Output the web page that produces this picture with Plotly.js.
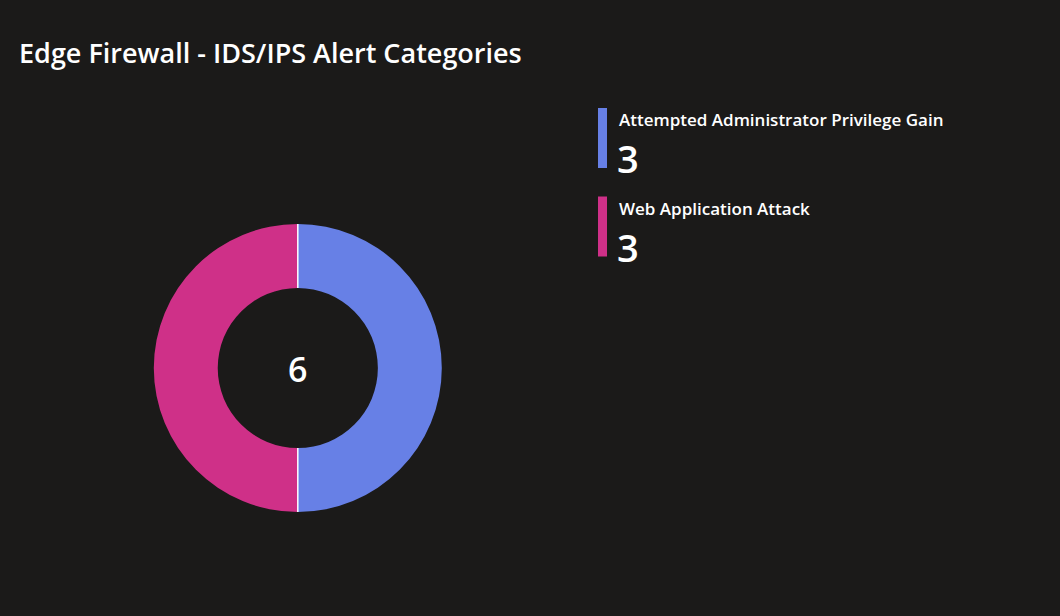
<!DOCTYPE html>
<html>
<head>
<meta charset="utf-8">
<script src="https://cdn.plot.ly/plotly-3.0.1.min.js"></script>
<style>html,body{margin:0;padding:0;background:#1b1a19;}#chart{width:1060px;height:616px;}</style>
</head>
<body>
<div id="chart"></div>
<script>
const categories = ["Attempted Administrator Privilege Gain", "Web Application Attack"];
const counts = [3, 3];
const colors = ["#6780e6", "#cf3088"];
const chartTitle = "Edge Firewall - IDS/IPS Alert Categories";

const W = 1060, H = 616;
const FONT = "'Open Sans', 'Noto Sans', sans-serif";
const total = counts.reduce((a, b) => a + b, 0);

const CX = 297.8, CY = 368, R = 144, HOLE = 0.556;

const trace = {
  type: "pie",
  labels: categories,
  values: counts,
  hole: HOLE,
  sort: false,
  direction: "clockwise",
  rotation: 0,
  textinfo: "none",
  hoverinfo: "label+value",
  marker: { colors: colors, line: { color: colors, width: 0 } },
  domain: { x: [(CX - R) / W, (CX + R) / W], y: [(H - CY - R) / H, (H - CY + R) / H] },
  showlegend: false
};

const shapes = [];
const annotations = [];
const px = x => x / W, py = y => 1 - y / H;

// white slice dividers, at the boundaries between slices
let cum = 0;
counts.forEach(v => {
  const th = cum / total * 2 * Math.PI;
  cum += v;
  const r0 = R * HOLE, r1 = R;
  shapes.push({
    type: "line", xref: "paper", yref: "paper",
    x0: px(CX + r0 * Math.sin(th)), y0: py(CY - r0 * Math.cos(th)),
    x1: px(CX + r1 * Math.sin(th)), y1: py(CY - r1 * Math.cos(th)),
    line: { color: "#ffffff", width: 1.5 }
  });
});

annotations.push({
  text: String(total), x: px(CX), y: py(369), xref: "paper", yref: "paper",
  showarrow: false, xanchor: "center", yanchor: "middle",
  font: { family: FONT, size: 34, color: "#ffffff", weight: 600 }
});

categories.forEach((c, i) => {
  const top = 108 + i * 88.5;
  shapes.push({
    type: "rect", xref: "paper", yref: "paper",
    x0: px(598), x1: px(607), y0: py(top), y1: py(top + 60),
    fillcolor: colors[i], line: { width: 0 }
  });
  annotations.push({
    text: c, x: px(617), y: py(top + 12), xref: "paper", yref: "paper",
    showarrow: false, xanchor: "left", yanchor: "middle",
    font: { family: FONT, size: 17, color: "#ffffff", weight: 600 }
  });
  annotations.push({
    text: String(counts[i]), x: px(615), y: py(top + 50), xref: "paper", yref: "paper",
    showarrow: false, xanchor: "left", yanchor: "middle",
    font: { family: FONT, size: 38, color: "#ffffff", weight: 600 }
  });
});

const layout = {
  width: W, height: H,
  paper_bgcolor: "#1b1a19", plot_bgcolor: "#1b1a19",
  margin: { l: 0, r: 0, t: 0, b: 0 },
  title: {
    text: chartTitle, x: px(19), xanchor: "left", y: py(54), yanchor: "middle",
    xref: "paper", yref: "paper",
    font: { family: FONT, size: 27, color: "#ffffff", weight: 600 }
  },
  shapes: shapes,
  annotations: annotations
};

Plotly.newPlot("chart", [trace], layout, { displayModeBar: false, responsive: false });
</script>
</body>
</html>
